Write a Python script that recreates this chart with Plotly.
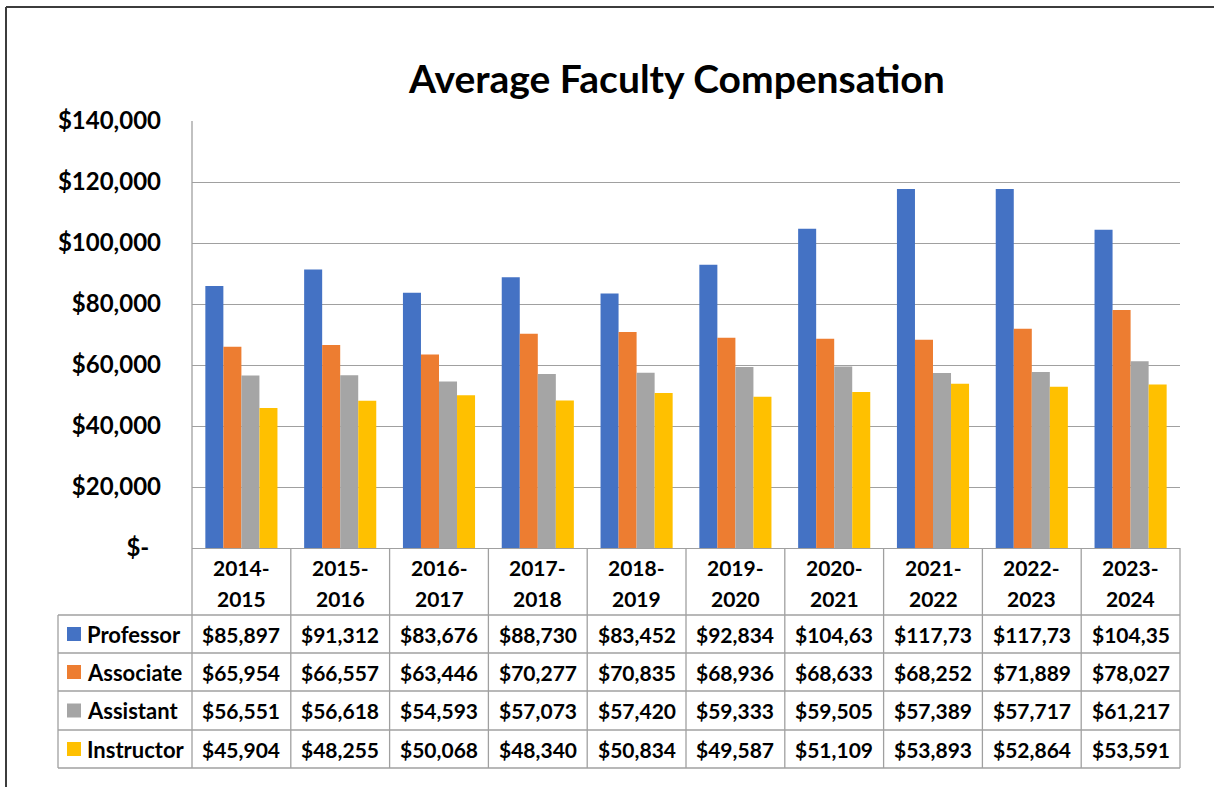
import plotly.graph_objects as go

# ---------------- data ----------------
categories = ["2014-2015", "2015-2016", "2016-2017", "2017-2018", "2018-2019",
              "2019-2020", "2020-2021", "2021-2022", "2022-2023", "2023-2024"]
series_names = ["Professor", "Associate", "Assistant", "Instructor"]
professor = [85897, 91312, 83676, 88730, 83452, 92834, 104632, 117734, 117736, 104352]
associate = [65954, 66557, 63446, 70277, 70835, 68936, 68633, 68252, 71889, 78027]
assistant = [56551, 56618, 54593, 57073, 57420, 59333, 59505, 57389, 57717, 61217]
instructor = [45904, 48255, 50068, 48340, 50834, 49587, 51109, 53893, 52864, 53591]
y_tick_vals = [0, 20000, 40000, 60000, 80000, 100000, 120000, 140000]
y_tick_text = ["$-\u00a0\u00a0", "$20,000", "$40,000", "$60,000", "$80,000",
               "$100,000", "$120,000", "$140,000"]
title_text = "Average Faculty Compensation"

series_values = [professor, associate, assistant, instructor]
colors = ["#4472C4", "#ED7D31", "#A5A5A5", "#FFC000"]

# ---------------- geometry (pixels) ----------------
W, H = 1214, 787
PL, PR = 192, 1180          # plot area left / right
PT, PB = 121, 768           # plot top / table bottom
AXIS0 = 548                 # y pixel of the value axis zero
TABLE_LEFT = 58
row_edges = [548, 615, 653, 691, 730, 768]
FONT = "Lato"
GRID = "#A0A0A0"
TXT = 21


def py(p):
    return (PB - p) / (PB - PT)


def px(p):
    return (p - PL) / (PR - PL)


def cell_text(v, maxchars=7):
    s = "${:,}".format(v)
    return s[:maxchars]   # Excel clips text that does not fit the cell


def tfont(size=TXT):
    return dict(family=FONT, size=size, color="black", weight="bold")


fig = go.Figure()
for name, vals, col in zip(series_names, series_values, colors):
    fig.add_trace(go.Bar(x=categories, y=vals, name=name, marker_color=col,
                         marker_line_width=0))

shapes = []
annotations = []
n = len(categories)

# table vertical lines (category boundaries)
for i in range(n + 1):
    shapes.append(dict(type="line", xref="paper", yref="paper",
                       x0=i / n, x1=i / n, y0=py(row_edges[-1]),
                       y1=py(PT) if i == 0 else py(AXIS0),
                       line=dict(color=GRID, width=1.3)))
# legend column left border
shapes.append(dict(type="line", xref="paper", yref="paper",
                   x0=px(TABLE_LEFT), x1=px(TABLE_LEFT),
                   y0=py(row_edges[-1]), y1=py(row_edges[1]),
                   line=dict(color=GRID, width=1.3)))
# table horizontal lines
for r in row_edges[1:]:
    shapes.append(dict(type="line", xref="paper", yref="paper",
                       x0=px(TABLE_LEFT), x1=1, y0=py(r), y1=py(r),
                       line=dict(color=GRID, width=1.3)))

# header cells (categories), two lines each
for c in categories:
    a, b = c.split("-")
    for txt, yy in ((a + "-", 567), (b, 598)):
        annotations.append(dict(x=c, xref="x", y=py(yy), yref="paper",
                                text=txt, showarrow=False, xanchor="center",
                                yanchor="middle", font=tfont()))

# value rows + legend column
for r, (name, vals, col) in enumerate(zip(series_names, series_values, colors)):
    top, bot = row_edges[r + 1], row_edges[r + 2]
    yc = (top + bot) / 2
    for c, v in zip(categories, vals):
        annotations.append(dict(x=c, xref="x", y=py(yc), yref="paper",
                                text=cell_text(v), showarrow=False,
                                xanchor="center", yanchor="middle", font=tfont()))
    shapes.append(dict(type="rect", xref="paper", yref="paper",
                       x0=px(67), x1=px(81), y0=py(yc + 7), y1=py(yc - 7),
                       fillcolor=col, line=dict(width=0)))
    annotations.append(dict(x=px(85), xref="paper", y=py(yc), yref="paper",
                            text=name, showarrow=False, xanchor="left",
                            yanchor="middle", font=tfont(22)))

# chart frame
shapes.append(dict(type="line", xref="paper", yref="paper",
                   x0=px(6), x1=px(6), y0=py(800), y1=py(7),
                   line=dict(color="#3C3C3C", width=2)))
shapes.append(dict(type="line", xref="paper", yref="paper",
                   x0=px(6), x1=px(1230), y0=py(7), y1=py(7),
                   line=dict(color="#3C3C3C", width=2)))

# title
annotations.append(dict(x=px(676), xref="paper", y=py(78), yref="paper",
                        text=title_text, showarrow=False, xanchor="center",
                        yanchor="middle", font=tfont(39)))

fig.update_layout(
    width=W, height=H,
    margin=dict(l=PL, r=W - PR, t=PT, b=H - PB, autoexpand=False),
    paper_bgcolor="white", plot_bgcolor="white",
    barmode="group", bargap=0.27, bargroupgap=0,
    showlegend=False,
    shapes=shapes, annotations=annotations,
    xaxis=dict(range=[-0.5, n - 0.5], showticklabels=False, showgrid=False,
               zeroline=False, showline=False, ticks="", fixedrange=True),
    yaxis=dict(domain=[py(AXIS0), 1], range=[0, 140000], tickvals=y_tick_vals,
               ticktext=y_tick_text, showgrid=True, gridcolor=GRID, gridwidth=1.3,
               zeroline=True, zerolinecolor=GRID, zerolinewidth=1.3,
               showline=False, ticks="", ticklabelstandoff=30,
               tickfont=tfont(24)),
)

fig.write_html("out.html", config={"displayModeBar": False},
               post_script="document.body.style.margin='0';")
